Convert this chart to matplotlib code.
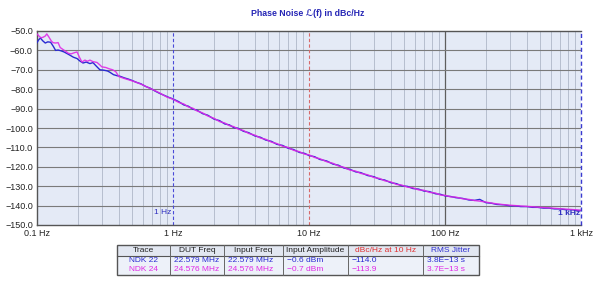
import matplotlib
matplotlib.use("Agg")
import matplotlib.pyplot as plt
from matplotlib.patches import Rectangle
from matplotlib.ticker import FixedLocator, NullFormatter

plt.rcParams["font.family"] = ["Liberation Sans", "DejaVu Sans"]

# ---- data ----
freq_lo_22 = [0.100, 0.103, 0.106, 0.110, 0.115, 0.120, 0.126, 0.132, 0.137, 0.143,
              0.150, 0.158, 0.166, 0.175, 0.185, 0.197, 0.207, 0.218, 0.230, 0.245,
              0.258, 0.272, 0.290, 0.310, 0.330, 0.344, 0.365, 0.386, 0.410, 0.440,
              0.470, 0.500, 0.540, 0.580, 0.630, 0.680, 0.740, 0.800, 0.870, 0.930, 1.000]
pn_lo_22 = [-56.0, -54.5, -53.6, -55.0, -56.2, -55.6, -55.8, -58.0, -60.0, -59.8,
            -60.2, -60.8, -61.6, -62.5, -63.5, -64.2, -65.5, -66.5, -66.0, -66.8,
            -66.3, -68.0, -70.0, -70.2, -70.6, -71.3, -72.5, -73.0, -73.4, -74.2,
            -74.8, -75.5, -76.5, -77.2, -78.6, -79.5, -81.0, -82.2, -83.3, -84.2, -85.0]

freq_lo_24 = [0.100, 0.103, 0.107, 0.111, 0.115, 0.118, 0.122, 0.127, 0.131, 0.137,
              0.143, 0.148, 0.155, 0.163, 0.170, 0.178, 0.188, 0.197, 0.205, 0.214,
              0.225, 0.235, 0.245, 0.258, 0.276, 0.290, 0.300, 0.320, 0.340, 0.360,
              0.380, 0.400, 0.440, 0.490, 0.540, 0.600, 0.660, 0.730, 0.800, 0.900, 1.000]
pn_lo_24 = [-51.5, -52.5, -53.5, -53.2, -52.6, -51.5, -53.0, -55.0, -56.0, -56.2,
            -56.0, -58.5, -59.5, -60.5, -61.5, -61.8, -61.2, -60.8, -63.5, -66.0,
            -65.0, -65.6, -65.0, -65.8, -66.2, -67.5, -68.5, -68.8, -69.5, -70.0,
            -71.0, -73.5, -74.5, -75.5, -76.5, -77.8, -79.2, -80.6, -82.0, -84.0, -85.2]

freq_hi = [1.1, 1.2, 1.3, 1.4, 1.5, 1.65, 1.8, 2.0, 2.2, 2.4,
           2.6, 2.8, 3.0, 3.3, 3.6, 4.0, 4.4, 4.8, 5.3, 5.8,
           6.4, 7.0, 7.7, 8.5, 9.3, 10, 11, 12, 13.5, 15,
           16.5, 18, 20, 22, 24, 27, 30, 33, 36, 40,
           44, 48, 53, 58, 64, 70, 77, 85, 93, 100,
           110, 120, 135, 150, 165, 180, 200, 220, 240, 270,
           300, 330, 360, 400, 440, 480, 530, 580, 640, 700,
           770, 850, 930, 1000]
pn_hi_22 = [-86.4, -88.1, -88.8, -90.3, -90.8, -92.6, -93.4, -95.4, -96.2, -97.9,
            -98.4, -99.8, -100.1, -101.7, -102.4, -104.1, -104.8, -106.2, -106.9, -108.4,
            -109.0, -110.4, -111.1, -112.6, -113.1, -114.2, -114.8, -116.2, -117.0, -118.6,
            -119.2, -120.6, -121.3, -122.6, -123.0, -124.5, -125.1, -126.4, -126.8, -128.2,
            -128.7, -129.8, -130.1, -131.2, -131.5, -132.5, -132.8, -133.9, -134.2, -135.0,
            -135.3, -135.9, -136.3, -137.1, -137.3, -136.8, -138.5, -138.8, -139.4, -139.6,
            -140.1, -140.1, -140.5, -140.5, -140.9, -140.9, -141.3, -141.3, -141.7, -141.7,
            -142.1, -142.1, -142.5, -142.6]
pn_hi_24 = [-86.8, -87.6, -89.2, -89.8, -91.2, -92.2, -93.8, -95.0, -96.7, -97.4,
            -98.8, -99.3, -100.5, -101.3, -102.8, -103.7, -105.2, -105.8, -107.3, -108.0,
            -109.4, -110.0, -111.5, -112.2, -113.5, -113.8, -115.2, -115.8, -117.4, -118.2,
            -119.6, -120.2, -121.7, -122.2, -123.4, -124.1, -125.5, -126.0, -127.2, -127.8,
            -129.1, -129.4, -130.5, -130.8, -131.9, -132.1, -133.2, -133.5, -134.6, -134.7,
            -135.5, -135.6, -136.5, -136.8, -137.4, -137.7, -138.2, -138.7, -139.1, -139.5,
            -139.8, -140.0, -140.2, -140.4, -140.6, -140.8, -141.0, -141.2, -141.4, -141.6,
            -141.8, -142.0, -142.2, -142.4]

y_ticks = [-50, -60, -70, -80, -90, -100, -110, -120, -130, -140, -150]
x_ticks = [0.1, 1, 10, 100, 1000]
x_labels = ["0.1 Hz", "1 Hz", "10 Hz", "100 Hz", "1 kHz"]

table_header = ["Trace", "DUT Freq", "Input Freq", "Input Amplitude",
                "dBc/Hz at 10 Hz", "RMS Jitter"]
row_22 = ["NDK 22", "22.579 MHz", "22.579 MHz", "\u22120.6 dBm", "\u2212114.0", "3.8E\u221213 s"]
row_24 = ["NDK 24", "24.576 MHz", "24.576 MHz", "\u22120.7 dBm", "\u2212113.9", "3.7E\u221213 s"]

BLUE = "#2a2ad2"
MAGENTA = "#e02ae6"

fig = plt.figure(figsize=(6.0, 2.94), dpi=100)
ax = fig.add_axes([37 / 600, 1 - 225 / 294, 544 / 600, 194 / 294])
ax.set_facecolor("#e4eaf6")

ax.set_xscale("log")
ax.set_xlim(0.1, 1000)
ax.set_ylim(-150, -50)

# grid: light minor decades, darker major at 100 Hz (1 Hz / 10 Hz carry markers)
minor = [m * 10.0 ** e for e in range(-1, 3) for m in range(2, 10)]
for x in minor:
    ax.axvline(x, color="#b6bece", lw=0.7, zorder=1)
ax.axvline(100, color="#5e5e5e", lw=0.9, zorder=1)
for y in y_ticks[1:-1]:
    ax.axhline(y, color="#7a7a7a", lw=0.8, zorder=1)

# markers
ax.axvline(1, color="#4a4ad8", lw=0.8, ls=(0, (3, 2)), zorder=2)
ax.axvline(10, color="#d86a6a", lw=0.8, ls=(0, (3, 2)), zorder=2)
ax.axvline(1000, color="#3a3ad0", lw=1.0, ls=(0, (3, 2)), zorder=4, clip_on=False)

ax.plot(freq_lo_22 + freq_hi, pn_lo_22 + pn_hi_22, color=BLUE, lw=1.0, zorder=3)
ax.plot(freq_lo_24 + freq_hi, pn_lo_24 + pn_hi_24, color=MAGENTA, lw=1.0, zorder=3, alpha=0.9)

ax.text(0.97, -143.8, "1 Hz", color="#3030c0", fontsize=6, ha="right", va="center", zorder=5)
ax.text(985, -144.2, "1 kHz", color="#3030c0", fontsize=6, ha="right", va="center",
        fontweight="bold", zorder=5)

ax.yaxis.set_major_locator(FixedLocator(y_ticks))
ax.set_yticklabels([f"{v:.1f}".replace("-", "\u2212") for v in y_ticks])
ax.xaxis.set_major_locator(FixedLocator(x_ticks))
ax.xaxis.set_minor_formatter(NullFormatter())
ax.set_xticklabels(x_labels)
ax.tick_params(axis="both", which="both", length=0, labelsize=6.5, colors="#222222", pad=3)
ax.tick_params(axis="x", which="minor", length=0)

for side in ["left", "bottom", "top"]:
    ax.spines[side].set_color("#555555")
    ax.spines[side].set_linewidth(1.0)
ax.spines["right"].set_visible(False)

fig.text(308 / 600, 1 - 13 / 294, "Phase Noise \u2112(f) in dBc/Hz", ha="center", va="center",
         fontsize=6.3, fontweight="bold", color="#2525b5")

# ---- table at the bottom ----
col_edges = [117, 170, 224, 283, 348, 423, 479]
y_top, y_mid, y_bot = 245, 256, 275


def fx(px):
    return px / 600


def fy(py):
    return 1 - py / 294


fig.patches.append(Rectangle((fx(117), fy(y_mid)), fx(479) - fx(117), fy(y_top) - fy(y_mid),
                             transform=fig.transFigure, facecolor="#e2e7f1", edgecolor="none"))
fig.patches.append(Rectangle((fx(117), fy(y_bot)), fx(479) - fx(117), fy(y_mid) - fy(y_bot),
                             transform=fig.transFigure, facecolor="#edf1f9", edgecolor="none"))
fig.patches.append(Rectangle((fx(117), fy(y_bot)), fx(479) - fx(117), fy(y_top) - fy(y_bot),
                             transform=fig.transFigure, facecolor="none", edgecolor="#555555", lw=1.0))
fig.lines.append(plt.Line2D([fx(117), fx(479)], [fy(y_mid), fy(y_mid)],
                            transform=fig.transFigure, color="#555555", lw=0.8))
for xe in col_edges[1:-1]:
    fig.lines.append(plt.Line2D([fx(xe), fx(xe)], [fy(y_top), fy(y_bot)],
                                transform=fig.transFigure, color="#666666", lw=0.7))

header_colors = ["#222222", "#222222", "#222222", "#222222", "#e03030", "#3030d0"]
for i, name in enumerate(table_header):
    cx = (col_edges[i] + col_edges[i + 1]) / 2
    fig.text(fx(cx), fy((y_top + y_mid) / 2), name, ha="center", va="center",
             fontsize=6, color=header_colors[i])

for i in range(len(table_header)):
    if i == 0:
        xpos, ha = fx((col_edges[0] + col_edges[1]) / 2), "center"
    else:
        xpos, ha = fx(col_edges[i] + 4), "left"
    fig.text(xpos, fy(261), row_22[i], ha=ha, va="center", fontsize=6, color=BLUE)
    fig.text(xpos, fy(269.5), row_24[i], ha=ha, va="center", fontsize=6, color=MAGENTA)

fig.savefig("out.png", dpi=100, facecolor="white")
